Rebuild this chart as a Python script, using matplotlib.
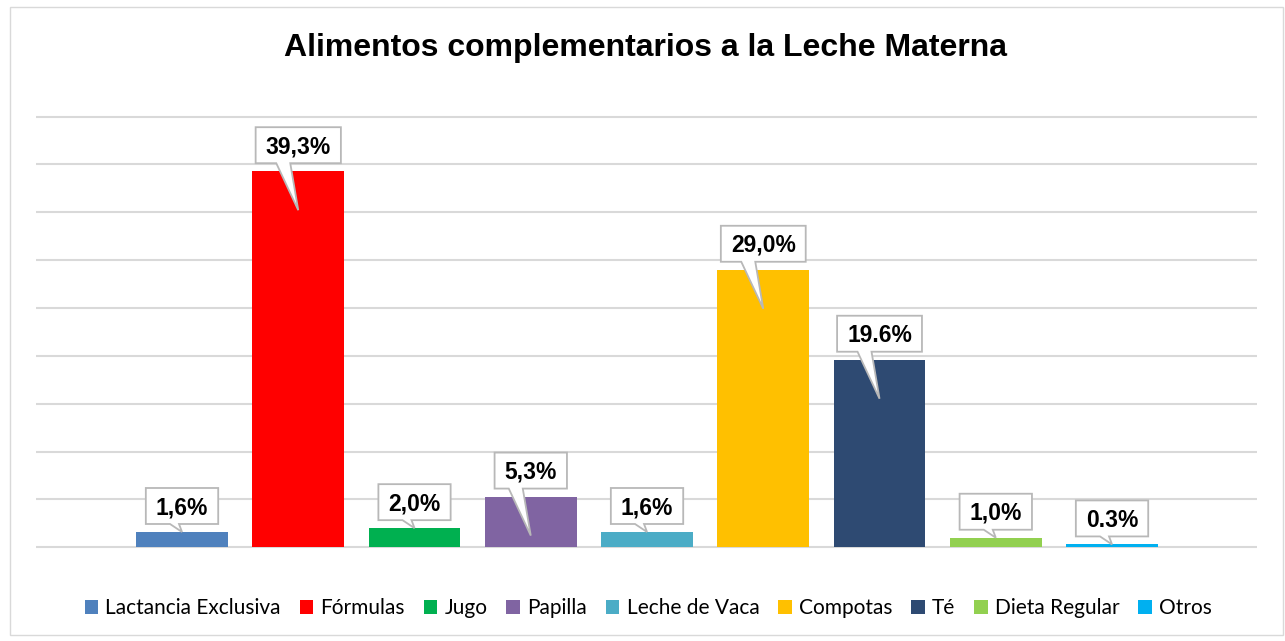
import matplotlib
matplotlib.use("Agg")
import matplotlib.pyplot as plt
from matplotlib.patches import Patch, Polygon, Rectangle
from matplotlib.transforms import IdentityTransform

categories = ["Lactancia Exclusiva", "Fórmulas", "Jugo", "Papilla", "Leche de Vaca",
              "Compotas", "Té", "Dieta Regular", "Otros"]
values = [1.6, 39.3, 2.0, 5.3, 1.6, 29.0, 19.6, 1.0, 0.3]
labels = ["1,6%", "39,3%", "2,0%", "5,3%", "1,6%", "29,0%", "19.6%", "1,0%", "0.3%"]
colors = ["#4f81bd", "#ff0000", "#00b050", "#8064a2", "#4bacc6",
          "#ffc000", "#2e4a72", "#92d050", "#00b0f0"]
grid_ticks = [0, 5, 10, 15, 20, 25, 30, 35, 40, 45]
title = "Alimentos complementarios a la Leche Materna"

W, H = 1285, 641
fig = plt.figure(figsize=(W / 100, H / 100), dpi=100)
fig.patch.set_facecolor("white")
fig.add_artist(Rectangle((10 / W, 6 / H), 1273 / W, 628 / H, transform=fig.transFigure,
                         facecolor="none", edgecolor="#d9d9d9", linewidth=1.0))

ax = fig.add_axes([36 / W, 0.1417, 1221 / W, 0.6808])
ax.set_xlim(-1.256, 9.247)
ax.set_ylim(-0.3, 45.3)
for s in ax.spines.values():
    s.set_visible(False)
ax.set_xticks([])
ax.set_yticks(grid_ticks)
ax.tick_params(axis="y", length=0, labelleft=False)
ax.grid(axis="y", color="#d9d9d9", linewidth=1.5)
ax.set_axisbelow(True)

x = list(range(len(categories)))
ax.bar(x, values, width=0.79, color=colors, zorder=2)

fig.text(0.502, (H - 48) / H, title, ha="center", va="center",
         fontsize=23, fontweight="bold", family="Liberation Sans")

# callouts
fig.canvas.draw()
renderer = fig.canvas.get_renderer()
fs = 16.5
digit_h = 0.716 * fs * 100 / 72
for i, (v, lab) in enumerate(zip(values, labels)):
    cx, top = ax.transData.transform((i, v))
    _, base = ax.transData.transform((i, 0))
    bar_h = top - base
    tip_y = top - 39 if bar_h > 45 else top
    bb = top + 8
    bt = bb + 36
    cy = (bb + bt) / 2
    t = ax.text(cx, cy - digit_h / 2, lab, transform=IdentityTransform(),
                ha="center", va="baseline", fontsize=fs, fontweight="bold",
                family="Liberation Sans", zorder=6, clip_on=False)
    tw = t.get_window_extent(renderer).width
    bw = tw + 20
    bx0, bx1 = cx - bw / 2, cx + bw / 2
    if bb - tip_y > 20:
        a, b = 22, 8
    else:
        a, b = 12, 3
    pts = [(bx0, bb), (cx - a, bb), (cx, tip_y), (cx - b, bb), (bx1, bb), (bx1, bt), (bx0, bt)]
    poly = Polygon(pts, closed=True, transform=IdentityTransform(), facecolor="white",
                   edgecolor="#b8b8b8", linewidth=1.3, zorder=5, clip_on=False)
    ax.add_artist(poly)

handles = [Patch(facecolor=c, edgecolor="none", label=n) for c, n in zip(colors, categories)]
fig.legend(handles=handles, loc="center", bbox_to_anchor=(0.5045, (H - 608) / H), ncol=9,
           frameon=False, prop={"family": "Lato", "size": 15}, handlelength=0.65,
           handleheight=0.65, handletextpad=0.35, columnspacing=0.9)

fig.savefig("out.png", dpi=100)
